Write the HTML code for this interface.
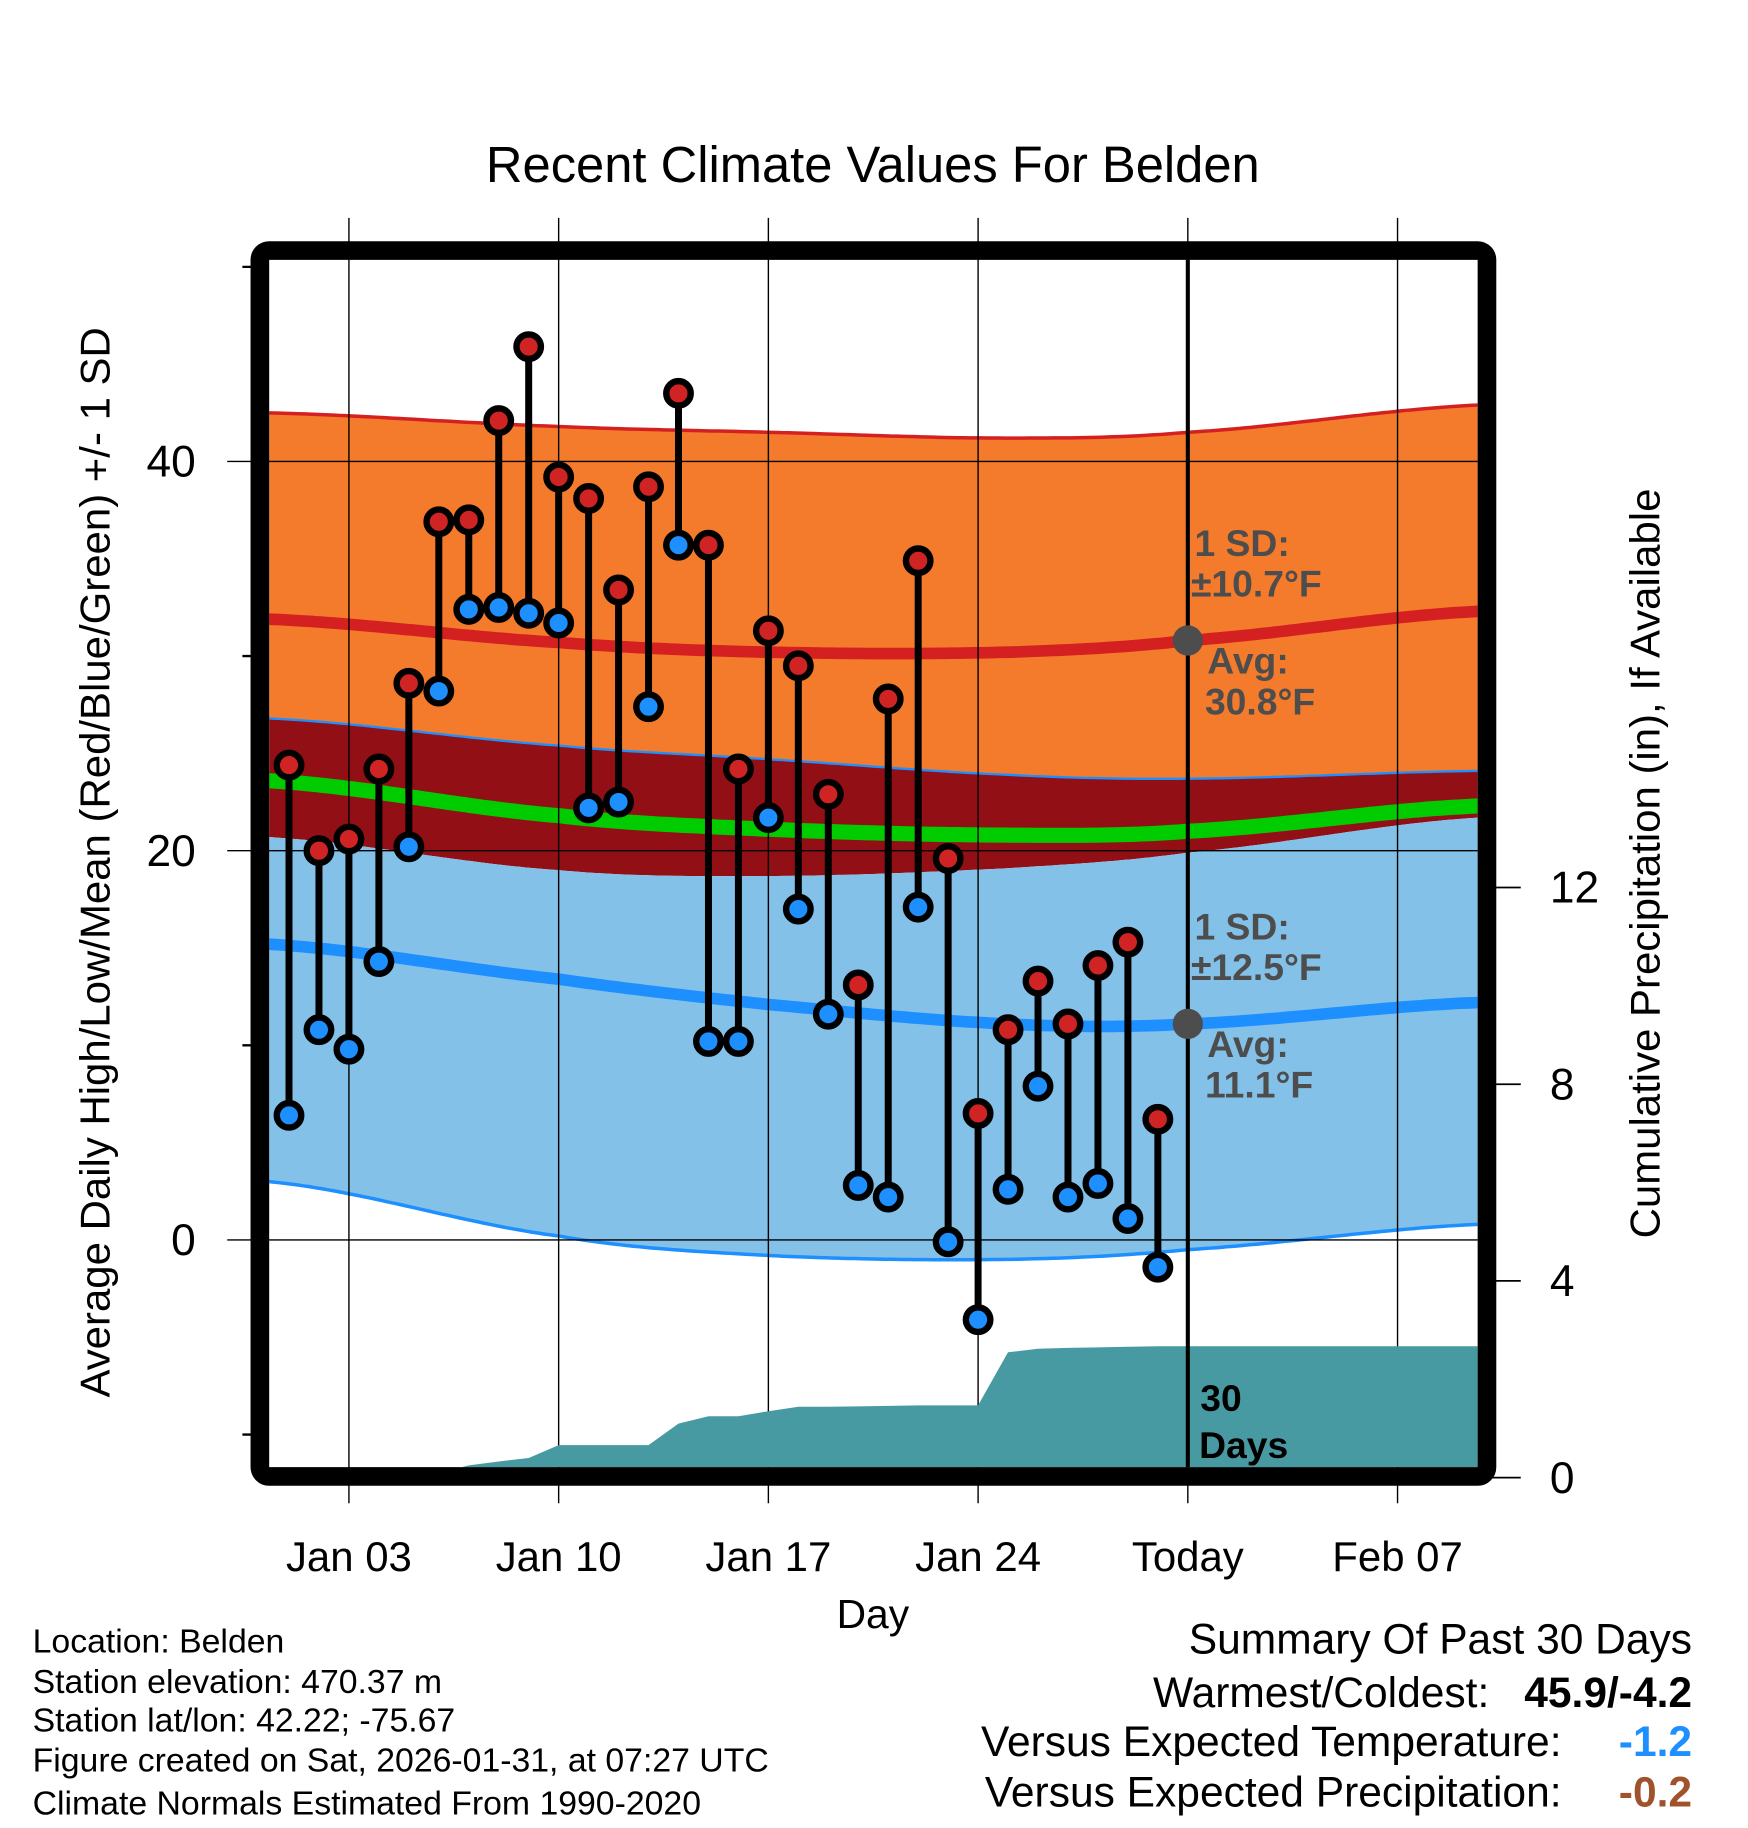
<!DOCTYPE html>
<html><head><meta charset="utf-8"><style>
html,body{margin:0;padding:0;background:#fff;}
svg{display:block;}
text{font-family:"Liberation Sans",Arial,sans-serif;}
</style></head><body>
<svg id="chart" width="1748" height="1828" viewBox="0 0 1500 1568.65" preserveAspectRatio="none" xmlns="http://www.w3.org/2000/svg">
<defs><clipPath id="plotclip"><rect x="231" y="223" width="1037" height="1036"/></clipPath></defs>
<text x="749" y="156" font-size="43.5" text-anchor="middle">Recent Climate Values For Belden</text>
<g id="bands" clip-path="url(#plotclip)"></g>
<g id="grid"></g>
<g id="precip" clip-path="url(#plotclip)"></g>
<g id="marks"></g>
<g id="annot"></g>
<rect x="223" y="215" width="1053" height="1052" fill="none" stroke="#000" stroke-width="16" rx="8"/>
<g id="axes"></g>
<text transform="translate(94,740) rotate(-90)" font-size="36" text-anchor="middle">Average Daily High/Low/Mean (Red/Blue/Green) +/- 1 SD</text>
<text transform="translate(1424,741) rotate(-90)" font-size="36" text-anchor="middle">Cumulative Precipitation (in), If Available</text>
<text x="749" y="1397" font-size="35" text-anchor="middle">Day</text>
<g font-size="29">
<text x="28" y="1418">Location: Belden</text>
<text x="28" y="1453">Station elevation: 470.37 m</text>
<text x="28" y="1486">Station lat/lon: 42.22; -75.67</text>
<text x="28" y="1520">Figure created on Sat, 2026-01-31, at 07:27 UTC</text>
<text x="28" y="1557">Climate Normals Estimated From 1990-2020</text>
</g>
<g font-size="36.5">
<text x="1452" y="1419" text-anchor="end">Summary Of Past 30 Days</text>
<text x="1278" y="1465" text-anchor="end">Warmest/Coldest:</text>
<text x="1452" y="1465" text-anchor="end" font-weight="bold">45.9/-4.2</text>
<text x="1340" y="1507" text-anchor="end">Versus Expected Temperature:</text>
<text x="1452" y="1507" text-anchor="end" font-weight="bold" fill="#1e8fff">-1.2</text>
<text x="1340" y="1550" text-anchor="end">Versus Expected Precipitation:</text>
<text x="1452" y="1550" text-anchor="end" font-weight="bold" fill="#a0522d">-0.2</text>
</g>
</svg>
<script>
const highs=[24.4,20.0,20.6,24.2,28.6,36.9,37.0,42.1,45.9,39.2,38.1,33.4,38.7,43.5,35.7,24.2,31.3,29.5,22.9,13.1,27.8,34.9,19.6,6.5,10.8,13.3,11.1,14.1,15.3,6.2];
const lows=[6.4,10.8,9.8,14.3,20.2,28.2,32.4,32.5,32.2,31.7,22.2,22.5,27.4,35.7,10.2,10.2,21.7,17.0,11.6,2.8,2.2,17.1,-0.1,-4.1,2.6,7.9,2.2,2.9,1.1,-1.4];
const precip=[0,0,0,0,0,0.1,0.25,0.33,0.4,0.66,0.66,0.66,0.66,1.1,1.25,1.25,1.35,1.44,1.44,1.45,1.46,1.47,1.47,1.47,2.55,2.62,2.64,2.65,2.66,2.67,2.67,2.67,2.67,2.67,2.67,2.67,2.67,2.67,2.67,2.67];
const normDays=[-0.7,9,16,24,30,39.7];
const highTop=[42.5,41.8,41.5,41.2,41.5,42.9];
const highMean=[31.9,30.7,30.2,30.2,30.8,32.3];
const highBot=[26.8,25.4,24.7,23.9,23.7,24.1];
const meanLine=[23.6,21.8,21.1,20.8,21.0,22.3];
const lowTop=[20.7,19.0,18.7,19.1,19.9,21.7];
const lowMean=[15.2,13.4,12.1,11.1,11.1,12.2];
const lowBot=[3.0,0.2,-0.8,-1.0,-0.5,0.8];
const xTickDays=[2,9,16,23,30,37];
const xTickLabels=["Jan 03","Jan 10","Jan 17","Jan 24","Today","Feb 07"];
const yMajor=[0,20,40];
const yMinor=[-10,10,30,50];
const pTicks=[0,4,8,12];

const NS="http://www.w3.org/2000/svg";
const x=d=>248+d*25.71;
const yT=v=>1064-v*16.7;
const yP=p=>1268-p*42.2;
function el(tag,attrs,parent){const e=document.createElementNS(NS,tag);for(const k in attrs)e.setAttribute(k,attrs[k]);parent.appendChild(e);return e;}
function interp(arr,d){
  let i=0;while(i<normDays.length-2&&d>normDays[i+1])i++;
  const t=(d-normDays[i])/(normDays[i+1]-normDays[i]);
  const p0=arr[Math.max(i-1,0)],p1=arr[i],p2=arr[i+1],p3=arr[Math.min(i+2,arr.length-1)];
  return 0.5*((2*p1)+(-p0+p2)*t+(2*p0-5*p1+4*p2-p3)*t*t+(-p0+3*p1-3*p2+p3)*t*t*t);
}
function curvePts(arr){const pts=[];for(let d=normDays[0];d<=normDays[normDays.length-1]+0.001;d+=0.2){pts.push([x(d),yT(interp(arr,d))]);}return pts;}
function band(topA,botA,fill,name){
  const t=curvePts(topA),b=curvePts(botA).reverse();
  const p=el('path',{d:'M'+t.concat(b).map(q=>q[0].toFixed(1)+','+q[1].toFixed(1)).join('L')+'Z',fill:fill},bands);
  
  
}
function line(arr,stroke,w,name){
  const p=el('path',{d:'M'+curvePts(arr).map(q=>q[0].toFixed(1)+','+q[1].toFixed(1)).join('L'),fill:'none',stroke:stroke,'stroke-width':w},bands);
  
  
}
const bands=document.getElementById('bands');
band(highTop,highBot,'#f47a2c','high-sd-band');
band(highBot,lowTop,'#930f16','overlap-band');
band(lowTop,lowBot,'#84c1e8','low-sd-band');
line(highTop,'#d42020',3,'high-sd-upper-line');
line(highBot,'#1e8fff',2,'high-sd-lower-line');
line(lowBot,'#1e8fff',3,'low-sd-lower-line');
line(meanLine,'#00cc00',13,'mean-normal-line');
line(highMean,'#d42020',10,'high-normal-line');
line(lowMean,'#1e8fff',10,'low-normal-line');

const grid=document.getElementById('grid');
xTickDays.forEach(d=>{const l=el('line',{x1:x(d),x2:x(d),y1:187,y2:1290,stroke:'#000','stroke-width':1.2},grid);

});
yMajor.forEach(v=>{const l=el('line',{x1:195,x2:1268,y1:yT(v),y2:yT(v),stroke:'#000','stroke-width':1.2},grid);

});

const pg=document.getElementById('precip');
let pd='M'+x(0)+','+yP(0);
precip.forEach((p,i)=>{pd+='L'+x(i).toFixed(1)+','+yP(p).toFixed(1);});
pd+='L1270,'+yP(precip[precip.length-1]).toFixed(1)+'L1270,1270L'+x(0)+',1270Z';
const pa=el('path',{d:pd,fill:'#489aa2'},pg);



const marks=document.getElementById('marks');
const tl=el('line',{x1:x(30),x2:x(30),y1:223,y2:1259,stroke:'#000','stroke-width':3.5},marks);


highs.forEach((h,i)=>{
  const s=el('line',{x1:x(i),x2:x(i),y1:yT(h),y2:yT(lows[i]),stroke:'#000','stroke-width':6},marks);
  
  
});
highs.forEach((h,i)=>{
  const c1=el('circle',{cx:x(i),cy:yT(h),r:10.5,fill:'#d02424',stroke:'#000','stroke-width':5.5},marks);
  
  
  const c2=el('circle',{cx:x(i),cy:yT(lows[i]),r:10.5,fill:'#1e8fff',stroke:'#000','stroke-width':5.5},marks);
  
  
});

const an=document.getElementById('annot');
function txt(s,xx,yy,sz,fill,bold,name,anchor){const t=el('text',{x:xx,y:yy,'font-size':sz,fill:fill,'font-weight':bold?'bold':'normal','text-anchor':anchor||'start'},an);t.textContent=s;

return t;}
const d1=el('circle',{cx:x(30),cy:yT(highMean[4]),r:13,fill:'#4d4d4d'},an);


const d2=el('circle',{cx:x(30),cy:yT(lowMean[4]),r:13,fill:'#4d4d4d'},an);


txt('1 SD:',1025,477,32,'#4d4d4d',true,'high-sd-label');
txt('±10.7°F',1022,512,32,'#4d4d4d',true,'high-sd-value');
txt('Avg:',1036,578,32,'#4d4d4d',true,'high-avg-label');
txt('30.8°F',1034,613,32,'#4d4d4d',true,'high-avg-value');
txt('1 SD:',1025,806,32,'#4d4d4d',true,'low-sd-label');
txt('±12.5°F',1022,841,32,'#4d4d4d',true,'low-sd-value');
txt('Avg:',1036,907,32,'#4d4d4d',true,'low-avg-label');
txt('11.1°F',1034,942,32,'#4d4d4d',true,'low-avg-value');
txt('30',1030,1211,32,'#000',true,'days-label-number');
txt('Days',1029,1251,32,'#000',true,'days-label-text');

const ax=document.getElementById('axes');
xTickDays.forEach((d,i)=>{txt(xTickLabels[i],x(d),1348,36,'#000',false,'x-tick-label','middle');});
yMajor.forEach(v=>{
  txt(String(v),168,yT(v)+13,38,'#000',false,'y-tick-label','end');
});
yMinor.forEach(v=>{const l=el('line',{x1:208,x2:224,y1:yT(v),y2:yT(v),stroke:'#000','stroke-width':2},ax);

});
pTicks.forEach(p=>{const l=el('line',{x1:1276,x2:1305,y1:yP(p),y2:yP(p),stroke:'#000','stroke-width':1.5},ax);


txt(String(p),1330,yP(p)+13,38,'#000',false,'y2-tick-label','start');});
</script>
</body></html>
